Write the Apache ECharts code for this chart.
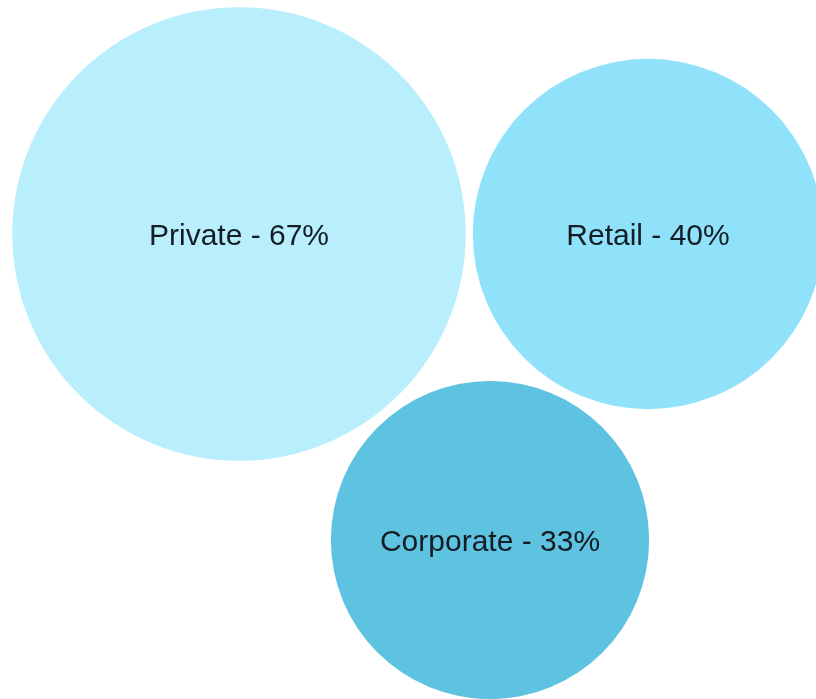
<!DOCTYPE html>
<html>
<head>
<meta charset="utf-8">
<script src="https://cdn.jsdelivr.net/npm/echarts@6/dist/echarts.min.js"></script>
<style>
  html, body { margin: 0; padding: 0; background: #ffffff; }
  #chart { width: 816px; height: 699px; }
</style>
</head>
<body>
<div id="chart"></div>
<script>
// Segments and their shares (percent)
const segments = ['Private', 'Retail', 'Corporate'];
const shares = [67, 40, 33];
// Bubble placement on the layout axes
const xPos = [239, 648, 490];
const yPos = [234, 234, 540];

const colors = ['#B9EEFD', '#8FE2FA', '#5EC2E1'];
// Bubble area proportional to share
const sizeScale = 55.4;

const chart = echarts.init(document.getElementById('chart'), null, { renderer: 'canvas' });

chart.setOption({
  backgroundColor: '#ffffff',
  animation: false,
  grid: { left: 0, right: 0, top: 0, bottom: 0 },
  xAxis: { type: 'value', min: 0, max: 816, show: false },
  yAxis: { type: 'value', min: 0, max: 699, inverse: true, show: false },
  series: [{
    type: 'scatter',
    data: segments.map((name, i) => ({
      name: name,
      value: [xPos[i], yPos[i], shares[i]],
      itemStyle: { color: colors[i], opacity: 1 }
    })),
    symbol: 'circle',
    symbolSize: (val) => sizeScale * Math.sqrt(val[2]),
    label: {
      show: true,
      position: 'inside',
      offset: [0, 3],
      formatter: (p) => p.name + ' - ' + p.value[2] + '%',
      color: '#141c24',
      fontFamily: '"Liberation Sans", Arial, sans-serif',
      fontSize: 30,
      fontWeight: 'normal'
    },
    emphasis: { disabled: true }
  }]
});
</script>
</body>
</html>
